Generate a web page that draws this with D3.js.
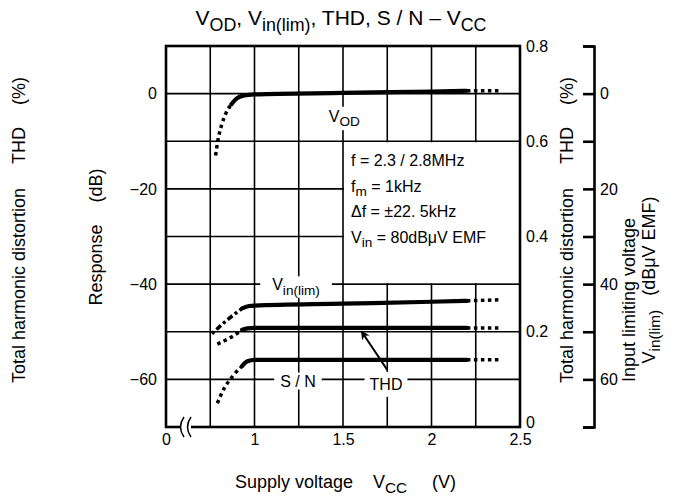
<!DOCTYPE html>
<html>
<head>
<meta charset="utf-8">
<script src="https://cdn.jsdelivr.net/npm/d3@7"></script>
<style>
  body { margin: 0; background: #fff; }
  svg { font-family: "Liberation Sans", Arial, sans-serif; }
</style>
</head>
<body>
<svg id="chart" width="680" height="499"></svg>
<script>
// --- data ---
const vccTicks = [0.5, 1, 1.5, 2, 2.5];
const vccTickLabels = ['0', '1', '1.5', '2', '2.5'];
const vccGrid = [0.75, 1, 1.25, 1.5, 1.75, 2, 2.25];
const dbTicks = [0, -20, -40, -60];
const dbGrid = [0, -10, -20, -30, -40, -50, -60];
const thdTicks = [0, 0.2, 0.4, 0.6, 0.8];
const vinTicks = [-10, 0, 10, 20, 30, 40, 50, 60, 70];
const vinLabelled = [0, 20, 40, 60];

// VOD (dB, left axis)
const vodHead = [[0.78, -13.0], [0.795, -9.5], [0.815, -6.5], [0.84, -4.0], [0.87, -2.2]];
const vodBody = [[0.87, -2.2], [0.9, -1.0], [0.94, -0.4], [1.0, -0.15], [1.5, 0.15], [2.0, 0.45], [2.2, 0.6]];
const vodTail = [[2.2, 0.6], [2.38, 0.6]];

// Vin(lim) (dBuV EMF, far right axis)
const vinHead = [[0.76, 50.4], [0.84, 47.7], [0.93, 45.1]];
const vinBody = [[0.93, 45.1], [0.97, 44.6], [1.0, 44.5], [1.5, 44.1], [2.0, 43.7], [2.2, 43.5]];
const vinTail = [[2.2, 43.5], [2.38, 43.3]];

// THD (%, right axis)
const thdHead = [[0.79, 0.174], [0.87, 0.189], [0.93, 0.204]];
const thdBody = [[0.93, 0.204], [0.96, 0.207], [1.0, 0.208], [1.5, 0.208], [2.0, 0.208], [2.2, 0.208]];
const thdTail = [[2.2, 0.208], [2.38, 0.208]];

// S/N (dB, left axis)
const snHead = [[0.79, -65.0], [0.83, -61.8], [0.88, -59.2], [0.93, -57.2]];
const snBody = [[0.93, -57.2], [0.96, -56.2], [1.0, -55.9], [1.5, -55.9], [2.0, -55.9], [2.2, -55.9]];
const snTail = [[2.2, -55.9], [2.38, -55.9]];

const conditions = [
  [['f = 2.3 / 2.8MHz']],
  [['f'], ['m', 1], [' = 1kHz']],
  [['\u0394f = \u00b122. 5kHz']],
  [['V'], ['in', 1], [' = 80dB\u03bcV EMF']],
];

// --- layout ---
const svg = d3.select('#chart');
const pLeft = 166, pRight = 520, pTop = 46, pBottom = 427;

const x = d3.scaleLinear().domain([0.5, 2.5]).range([pLeft, pRight]);
const yDb = d3.scaleLinear().domain([-70, 10]).range([pBottom, pTop]);
const yThd = d3.scaleLinear().domain([0, 0.8]).range([pBottom, pTop]);
const yVin = d3.scaleLinear().domain([-10, 70]).range([pTop, pBottom]);

// rich text with subscripts
function rich(text, parts, size) {
  let low = false;
  parts.forEach(([t, sub, dx]) => {
    const ts = text.append('tspan').text(t);
    if (dx) ts.attr('dx', dx);
    if (sub && !low) { ts.attr('dy', size * 0.28); low = true; }
    else if (!sub && low) { ts.attr('dy', -size * 0.28); low = false; }
    if (sub) ts.attr('font-size', size * 0.85);
  });
  return text;
}

// grid
const grid = svg.append('g').attr('stroke', '#000').attr('stroke-width', 1.6);
grid.selectAll('.gv').data(vccGrid).enter().append('line')
    .attr('x1', d => x(d)).attr('x2', d => x(d))
    .attr('y1', pTop).attr('y2', pBottom);
grid.selectAll('.gh').data(dbGrid).enter().append('line')
    .attr('x1', pLeft).attr('x2', pRight)
    .attr('y1', d => yDb(d)).attr('y2', d => yDb(d));

// condition box (blanks the grid behind it)
svg.append('rect')
    .attr('x', x(1.5) + 1).attr('y', yDb(-10) + 1)
    .attr('width', pRight - x(1.5) - 2).attr('height', yDb(-40) - yDb(-10) - 2)
    .attr('fill', '#fff');
const cond = svg.append('g').attr('font-size', 16);
conditions.forEach((parts, i) => {
  rich(cond.append('text').attr('x', x(1.5) + 8).attr('y', 166 + i * 25.5), parts, 16);
});

// curve labels with white backing
const labels = svg.append('g').attr('font-size', 16);
function curveLabel(xp, yp, parts, padX, padY) {
  const g = labels.append('g');
  const t = rich(g.append('text').attr('x', xp).attr('y', yp), parts, 16);
  const b = t.node().getBBox();
  g.insert('rect', 'text')
      .attr('x', b.x - padX).attr('y', b.y - padY)
      .attr('width', b.width + 2 * padX).attr('height', b.height + 2 * padY)
      .attr('fill', '#fff');
}
curveLabel(x(1.42), yDb(-5.9), [['V'], ['OD', 1]], 2, 1);
curveLabel(x(1.1), yDb(-41.3), [['V'], ['in(lim)', 1]], 12, 0);
curveLabel(x(1.145), yDb(-61.5), [['S / N']], 6, 0);
curveLabel(x(1.65), yThd(0.078), [['THD']], 5, 4);

// curves
const line = d3.line().x(d => x(d[0])).curve(d3.curveMonotoneX);
const curves = [
  { y: yDb, head: vodHead, body: vodBody, tail: vodTail, dash: '3.5,3.5' },
  { y: yVin, head: vinHead, body: vinBody, tail: vinTail, dash: '3,3,6,3' },
  { y: yThd, head: thdHead, body: thdBody, tail: thdTail, dash: '3.5,3.5' },
  { y: yDb, head: snHead, body: snBody, tail: snTail, dash: '3.5,3.5' },
];
const cg = svg.append('g').attr('fill', 'none').attr('stroke', '#000');
curves.forEach(c => {
  const l = line.y(d => c.y(d[1]));
  cg.append('path').attr('d', l(c.head)).attr('stroke-width', 3.5).attr('stroke-dasharray', c.dash);
  cg.append('path').attr('d', l(c.body)).attr('stroke-width', 4.2).attr('stroke-linecap', 'round');
  cg.append('path').attr('d', l(c.tail)).attr('stroke-width', 3.5).attr('stroke-dasharray', '3.5,3.5');
});

// THD arrow
svg.append('defs').append('marker')
    .attr('id', 'arr').attr('viewBox', '0 0 10 10').attr('refX', 9).attr('refY', 5)
    .attr('markerWidth', 9).attr('markerHeight', 9).attr('orient', 'auto')
    .attr('markerUnits', 'userSpaceOnUse')
  .append('path').attr('d', 'M0,0L10,5L0,10L3,5Z').attr('fill', '#000');
svg.append('line')
    .attr('x1', x(1.75)).attr('y1', yThd(0.12))
    .attr('x2', x(1.604)).attr('y2', yThd(0.201))
    .attr('stroke', '#000').attr('stroke-width', 2)
    .attr('marker-end', 'url(#arr)');

// frame
svg.append('rect')
    .attr('x', pLeft).attr('y', pTop).attr('width', pRight - pLeft).attr('height', pBottom - pTop)
    .attr('fill', 'none').attr('stroke', '#000').attr('stroke-width', 2.6);

// axis break on the V axis
svg.append('rect').attr('x', 180).attr('y', pBottom - 3).attr('width', 11).attr('height', 6).attr('fill', '#fff');
svg.append('g').attr('fill', 'none').attr('stroke', '#000').attr('stroke-width', 1.5)
  .selectAll('path').data([0, 7]).enter().append('path')
    .attr('d', d => `M${184 + d},${pBottom - 10} Q${177 + d},${pBottom} ${184 + d},${pBottom + 10}`);

// axes
function styleAxis(g) {
  g.select('.domain').remove();
  g.selectAll('text').attr('font-size', 16).attr('font-family', '"Liberation Sans", Arial, sans-serif').attr('fill', '#000');
}
svg.append('g').attr('transform', `translate(${pLeft},0)`)
    .call(d3.axisLeft(yDb).tickValues(dbTicks).tickSize(0).tickPadding(9))
    .call(styleAxis);
svg.append('g').attr('transform', `translate(0,${pBottom})`)
    .call(d3.axisBottom(x).tickValues(vccTicks).tickSize(0).tickPadding(7)
      .tickFormat((d, i) => vccTickLabels[i]))
    .call(styleAxis);
svg.append('g').attr('transform', `translate(${pRight},0)`)
    .call(d3.axisRight(yThd).tickValues(thdTicks).tickSize(0).tickPadding(6)
      .tickFormat(d => d === 0 ? '0' : d3.format('.1f')(d)))
    .call(styleAxis)
    .selectAll('text').filter(d => d === 0).attr('dy', '0.05em');

const vinAxis = svg.append('g').attr('transform', 'translate(594,0)')
    .call(d3.axisRight(yVin).tickValues(vinTicks).tickSizeInner(-11).tickSizeOuter(-11).tickPadding(6)
      .tickFormat(d => vinLabelled.includes(d) ? d : ''));
vinAxis.selectAll('line, .domain').attr('stroke', '#000').attr('stroke-width', 2.6);
vinAxis.selectAll('text').attr('font-size', 16).attr('font-family', '"Liberation Sans", Arial, sans-serif').attr('fill', '#000');

// titles
rich(svg.append('text').attr('x', 341).attr('y', 25).attr('text-anchor', 'middle').attr('font-size', 21),
  [['V'], ['OD', 1], [', V'], ['in(lim)', 1], [', THD, S / N \u2013 V'], ['CC', 1]], 21);

const xt = svg.append('g').attr('font-size', 18);
xt.append('text').attr('x', 235).attr('y', 488).text('Supply voltage');
rich(xt.append('text').attr('x', 373).attr('y', 488), [['V'], ['CC', 1]], 18);
xt.append('text').attr('x', 432).attr('y', 488).text('(V)');

function vtitle(xb, yc, parts, size) {
  rich(svg.append('text').attr('text-anchor', 'middle').attr('font-size', size)
    .attr('transform', `translate(${xb},${yc}) rotate(-90)`), parts, size);
}
vtitle(25, 230, [['Total harmonic distortion'], ['THD', 0, 24], ['(%)', 0, 22]], 18);
vtitle(102, 237, [['Response'], ['(dB)', 0, 22]], 18);
vtitle(573, 230, [['Total harmonic distortion'], ['THD', 0, 24], ['(%)', 0, 22]], 18);
vtitle(635, 300, [['Input limiting voltage']], 18);
vtitle(655, 280, [['V'], ['in(lim)', 1], ['(dB\u03bcV EMF)', 0, 14]], 18);
</script>
</body>
</html>
